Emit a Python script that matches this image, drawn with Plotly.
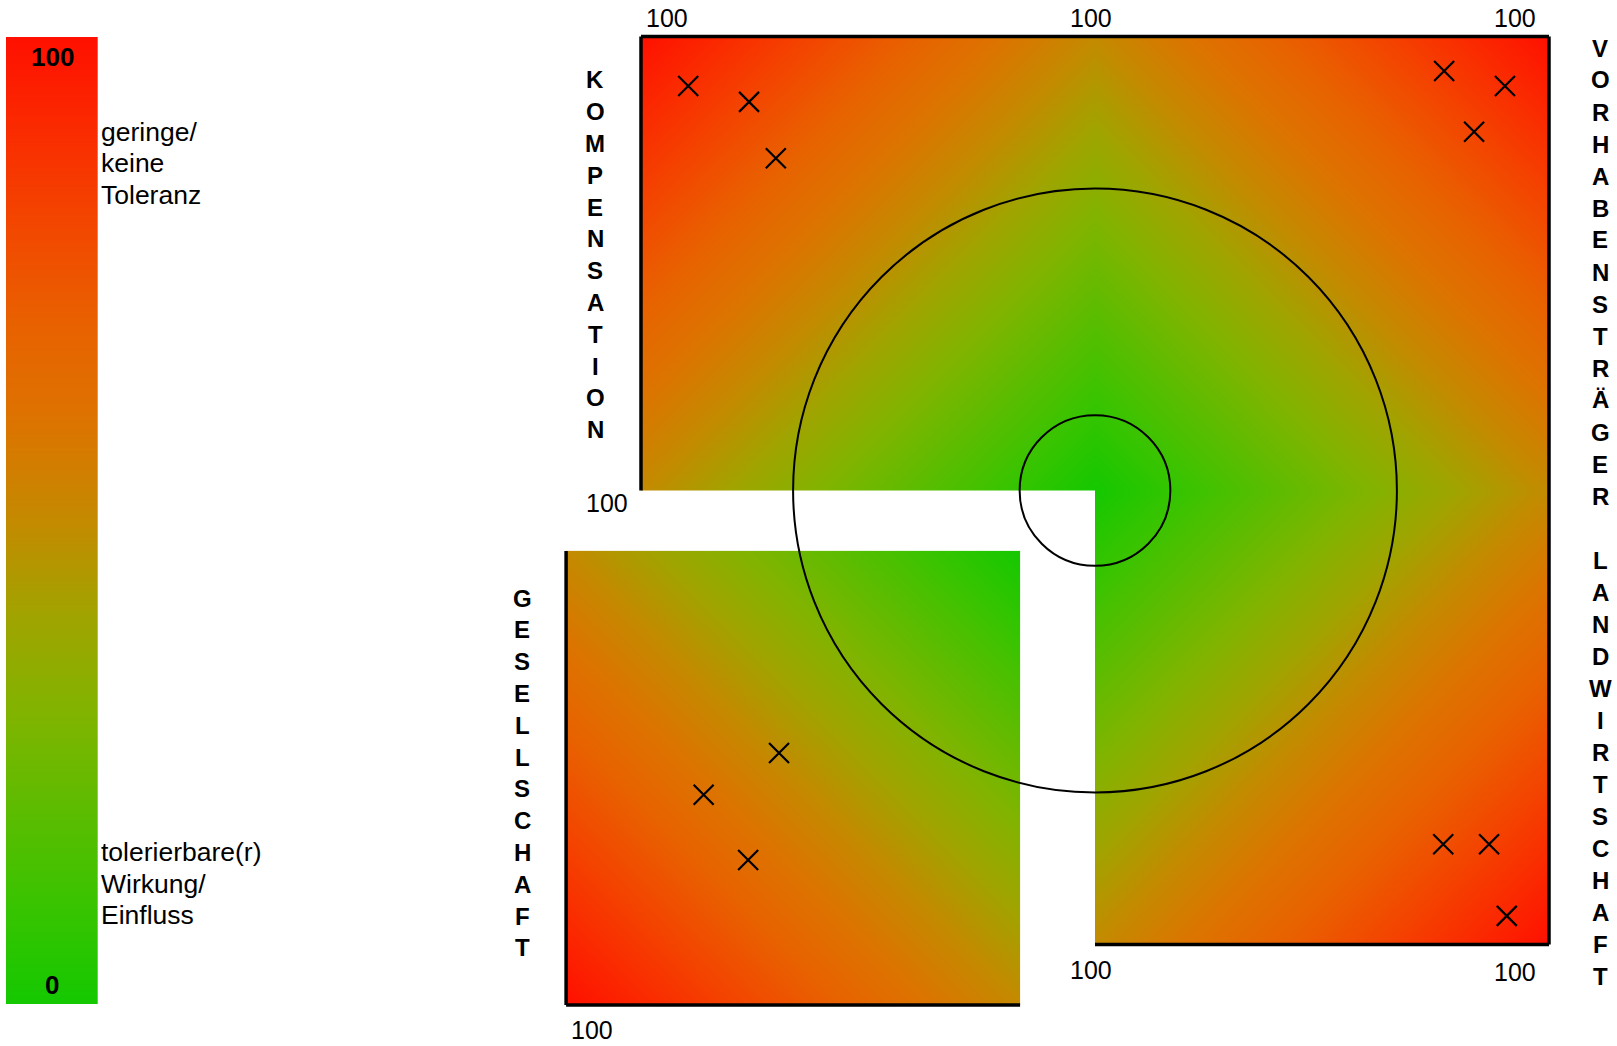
import numpy as np
import plotly.graph_objects as go

# ---------------- data ----------------
# impact positions (0..100 from the centre) per stakeholder quadrant
komp_x = [-89.6, -76.2, -70.3]          # Kompensation (top left)
komp_y = [89.1, 85.6, 73.2]
vorh_x = [76.9, 90.3, 83.5]             # Vorhabensträger (top right)
vorh_y = [92.4, 89.1, 79.0]
land_x = [76.7, 86.8, 90.7]             # Landwirtschaft (bottom right)
land_y = [-77.9, -77.9, -93.7]
ges_x = [-53.1, -69.7, -59.9]           # Gesellschaft (bottom left, offset square)
ges_y = [-44.5, -53.7, -68.1]

inner_radius = 16.6
outer_radius = 66.5
scale_levels = list(range(0, 101))      # tolerance scale 0..100
scale_top_label = "100"
scale_bottom_label = "0"
axis_max_label = "100"
label_high = ["geringe/", "keine", "Toleranz"]
label_low = ["tolerierbare(r)", "Wirkung/", "Einfluss"]
word_komp = "KOMPENSATION"
word_vorh = "VORHABENSTRÄGER"
word_land = "LANDWIRTSCHAFT"
word_ges = "GESELLSCHAFT"

# ---------------- layout constants ----------------
W, H = 1617, 1046
PX = 4.54              # pixels per unit
CX, CY = 1095, 490.5   # pixel position of the centre
GDX, GDY = -16.5, -13.3  # offset of the Gesellschaft square
FONT = "Liberation Sans, Arial, sans-serif"

colorscale = [
    [0.0, "#14C800"], [0.1, "#38C400"], [0.2, "#5CBC00"], [0.3, "#80B400"],
    [0.4, "#A0A400"], [0.5, "#C48A00"], [0.6, "#DC7400"], [0.7, "#E86200"],
    [0.8, "#F24800"], [0.9, "#FA2C00"], [1.0, "#FF1000"],
]


def field(x0, x1, y0, y1, cx, cy):
    nx, ny = int(round(x1 - x0)), int(round(y1 - y0))
    xs = x0 + (np.arange(nx) + 0.5) * (x1 - x0) / nx
    ys = y0 + (np.arange(ny) + 0.5) * (y1 - y0) / ny
    X, Y = np.meshgrid(xs, ys)
    z = (np.abs(X - cx) + np.abs(Y - cy)) / 2.0
    return go.Heatmap(x=xs, y=ys, z=np.clip(z, 0, 100), colorscale=colorscale,
                      zmin=0, zmax=100, zsmooth="best", showscale=False,
                      hoverinfo="skip")


fig = go.Figure()
# lower-right field slightly extended upward under the top field (no seam)
fig.add_trace(field(0, 100, -100, 1, 0, 0))
fig.add_trace(field(-100, 100, 0, 100, 0, 0))
fig.add_trace(field(-100 + GDX, GDX, -100 + GDY, GDY, GDX, GDY))

# colour scale bar
fig.add_trace(go.Heatmap(x=[0, 1], y=scale_levels,
                         z=[[v, v] for v in scale_levels],
                         colorscale=colorscale, zmin=0, zmax=100,
                         zsmooth="best", showscale=False, hoverinfo="skip",
                         xaxis="x2", yaxis="y2"))

mk = dict(symbol="x-thin-open", size=20, line=dict(width=2.2, color="black"),
          color="black")
for xs, ys, dx, dy in [(komp_x, komp_y, 0, 0), (vorh_x, vorh_y, 0, 0),
                       (land_x, land_y, 0, 0), (ges_x, ges_y, GDX, GDY)]:
    fig.add_trace(go.Scatter(x=[v + dx for v in xs], y=[v + dy for v in ys],
                             mode="markers", marker=mk, hoverinfo="skip",
                             showlegend=False))

# borders
bw = 3.5
def seg(x0, y0, x1, y1):
    fig.add_shape(type="line", x0=x0, y0=y0, x1=x1, y1=y1,
                  line=dict(color="black", width=bw), xref="x", yref="y")

seg(-100, 100, 100, 100)
seg(-100, 0, -100, 100)
seg(100, 100, 100, -100)
seg(0, -100, 100, -100)
seg(-100 + GDX, GDY, -100 + GDX, -100 + GDY)
seg(-100 + GDX, -100 + GDY, GDX, -100 + GDY)

for r in (outer_radius, inner_radius):
    fig.add_shape(type="circle", x0=-r, y0=-r, x1=r, y1=r,
                  line=dict(color="black", width=2), xref="x", yref="y")

# annotations in pixel coordinates
def txt(px, py, text, size=24, bold=False, xanchor="center", align="center"):
    fig.add_annotation(x=px / W, y=1 - py / H, xref="paper", yref="paper",
                       text=text, showarrow=False, xanchor=xanchor,
                       yanchor="middle", align=align,
                       font=dict(family=FONT, size=size, color="black",
                                 weight="bold" if bold else "normal"))

for (px, py) in [(667, 18), (1091, 18), (1515, 18), (607, 503),
                 (1091, 970), (1515, 972), (592, 1030)]:
    txt(px, py, axis_max_label, size=25)

txt(52, 57, scale_top_label, size=26, bold=True)
txt(52, 985, scale_bottom_label, size=26, bold=True)
for i, line in enumerate(label_high):
    txt(99, 132 + i * 31.5, line, size=26.5, xanchor="left", align="left")
for i, line in enumerate(label_low):
    txt(99, 852 + i * 31.5, line, size=26.5, xanchor="left", align="left")

def vword(px, py0, step, word):
    for i, ch in enumerate(word):
        if ch != " ":
            txt(px, py0 + i * step, ch, bold=True)

vword(595, 80, 31.8, word_komp)
vword(522, 598, 31.8, word_ges)
vword(1600, 48, 32.0, word_vorh + " " + word_land)

fig.update_layout(
    width=W, height=H, margin=dict(l=0, r=0, t=0, b=0),
    paper_bgcolor="white", plot_bgcolor="rgba(0,0,0,0)", showlegend=False,
    xaxis=dict(range=[-CX / PX, (W - CX) / PX], visible=False, domain=[0, 1]),
    yaxis=dict(range=[(CY - H) / PX, CY / PX], visible=False, domain=[0, 1]),
    xaxis2=dict(range=[0, 1], visible=False, domain=[6 / W, 97.7 / W],
                anchor="y2"),
    yaxis2=dict(range=[0, 100], visible=False,
                domain=[1 - 1004 / H, 1 - 37 / H], anchor="x2"),
)

fig.write_html("out.html", config={"displayModeBar": False},
               post_script="document.body.style.margin='0px';"
                           "document.body.style.overflow='hidden';")
